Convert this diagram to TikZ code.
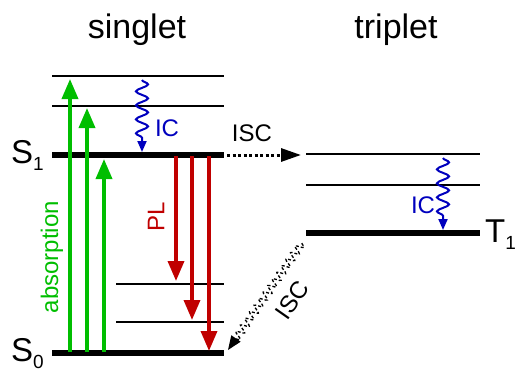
\documentclass[tikz,border=0pt]{standalone}
\usepackage{fontspec}
\setmainfont{Liberation Sans}
\usetikzlibrary{arrows.meta,decorations.pathmorphing}

\definecolor{absgreen}{RGB}{0,190,0}
\definecolor{plred}{RGB}{192,0,0}
\definecolor{icblue}{RGB}{0,0,190}

\begin{document}
\begin{tikzpicture}[
    x=1pt, y=-1pt,
    thinlevel/.style={black, line width=2.5pt},
    thicklevel/.style={black, line width=5.5pt},
    absarrow/.style={absgreen, line width=3.5pt, -{Triangle[length=20pt, width=16pt]}},
    plarrow/.style={plred, line width=3.5pt, -{Triangle[length=20pt, width=16pt]}},
    icarrow/.style={icblue, line width=2pt, -{Triangle[length=11pt, width=9pt]},
        decorate, decoration={snake, amplitude=6pt, segment length=14pt, post length=12pt}},
    iscarrow/.style={black, line width=3pt, dash pattern=on 3pt off 2.5pt,
        -{Triangle[length=20pt, width=13pt]}},
    iscwave/.style={black, line width=1.3pt, densely dashed,
        -{Triangle[length=14pt, width=11pt]},
        decorate, decoration={snake, amplitude=4pt, segment length=8pt, post length=12pt}},
    titlelabel/.style={font=\fontsize{34}{40}\selectfont},
    statelabel/.style={font=\fontsize{33}{40}\selectfont, anchor=base west, inner sep=0pt},
    smalllabel/.style={font=\fontsize{24}{28}\selectfont, inner sep=0pt},
]

\useasboundingbox (0,0) rectangle (516,369);

% ── Titles ──────────────────────────────────────────────────
\node[titlelabel] (singlet) at (137,30) {singlet};
\node[titlelabel] (triplet) at (396,30) {triplet};

% ── Singlet levels ──────────────────────────────────────────
\foreach \n/\y in {v2/76, v1/106} {
    \coordinate (s\n l) at (52,\y);
    \coordinate (s\n r) at (224,\y);
    \draw[thinlevel] (s\n l) -- (s\n r);
}
\coordinate (s1l) at (52,155);
\coordinate (s1r) at (224,155);
\draw[thicklevel] (s1l) -- (s1r);

\foreach \n/\y in {v2/284, v1/322} {
    \coordinate (g\n l) at (116,\y);
    \coordinate (g\n r) at (224,\y);
    \draw[thinlevel] (g\n l) -- (g\n r);
}
\coordinate (s0l) at (52,353);
\coordinate (s0r) at (224,353);
\draw[thicklevel] (s0l) -- (s0r);

% ── Triplet levels ──────────────────────────────────────────
\foreach \n/\y in {v2/154, v1/185} {
    \coordinate (t\n l) at (306,\y);
    \coordinate (t\n r) at (480,\y);
    \draw[thinlevel] (t\n l) -- (t\n r);
}
\coordinate (t1l) at (306,233);
\coordinate (t1r) at (480,233);
\draw[thicklevel] (t1l) -- (t1r);

% ── State labels ────────────────────────────────────────────
\node[statelabel] (S1) at (11,163)
    {S\raisebox{-7pt}{\fontsize{19}{20}\selectfont 1}};
\node[statelabel] (S0) at (11,361)
    {S\raisebox{-7pt}{\fontsize{19}{20}\selectfont 0}};
\node[statelabel] (T1) at (485,242)
    {T\raisebox{-7pt}{\fontsize{19}{20}\selectfont 1}};

% ── Absorption ──────────────────────────────────────────────
\foreach \x/\y [count=\i] in {70/79, 87/108, 104/159} {
    \coordinate (abs\i a) at (\x,352);
    \coordinate (abs\i b) at (\x,\y);
    \draw[absarrow] (abs\i a) -- (abs\i b);
}
\node[smalllabel, absgreen, rotate=90] (absorption) at (52,257) {absorption};

% ── Photoluminescence ───────────────────────────────────────
\foreach \x/\y [count=\i] in {176/281, 192/320, 209/351} {
    \coordinate (pl\i a) at (\x,156);
    \coordinate (pl\i b) at (\x,\y);
    \draw[plarrow] (pl\i a) -- (pl\i b);
}
\node[smalllabel, plred, rotate=90] (PL) at (156,217) {PL};

% ── Internal conversion ─────────────────────────────────────
\coordinate (icsa) at (142,80);
\coordinate (icsb) at (142,152);
\draw[icarrow] (icsa) -- (icsb);
\node[smalllabel, icblue] (ICs) at (167,128) {IC};

\coordinate (icta) at (443,158);
\coordinate (ictb) at (443,230);
\draw[icarrow] (icta) -- (ictb);
\node[smalllabel, icblue] (ICt) at (423,205) {IC};

% ── Intersystem crossing ────────────────────────────────────
\coordinate (isca) at (227,155);
\coordinate (iscb) at (301,155);
\draw[iscarrow] (isca) -- (iscb);
\node[smalllabel] (ISCtop) at (252,133) {ISC};

\coordinate (iscc) at (302,243);
\coordinate (iscd) at (228,350);
\draw[iscwave] (iscc) -- (iscd);
\node[smalllabel, rotate=55] (ISCbot) at (292,300) {ISC};

\end{tikzpicture}
\end{document}
